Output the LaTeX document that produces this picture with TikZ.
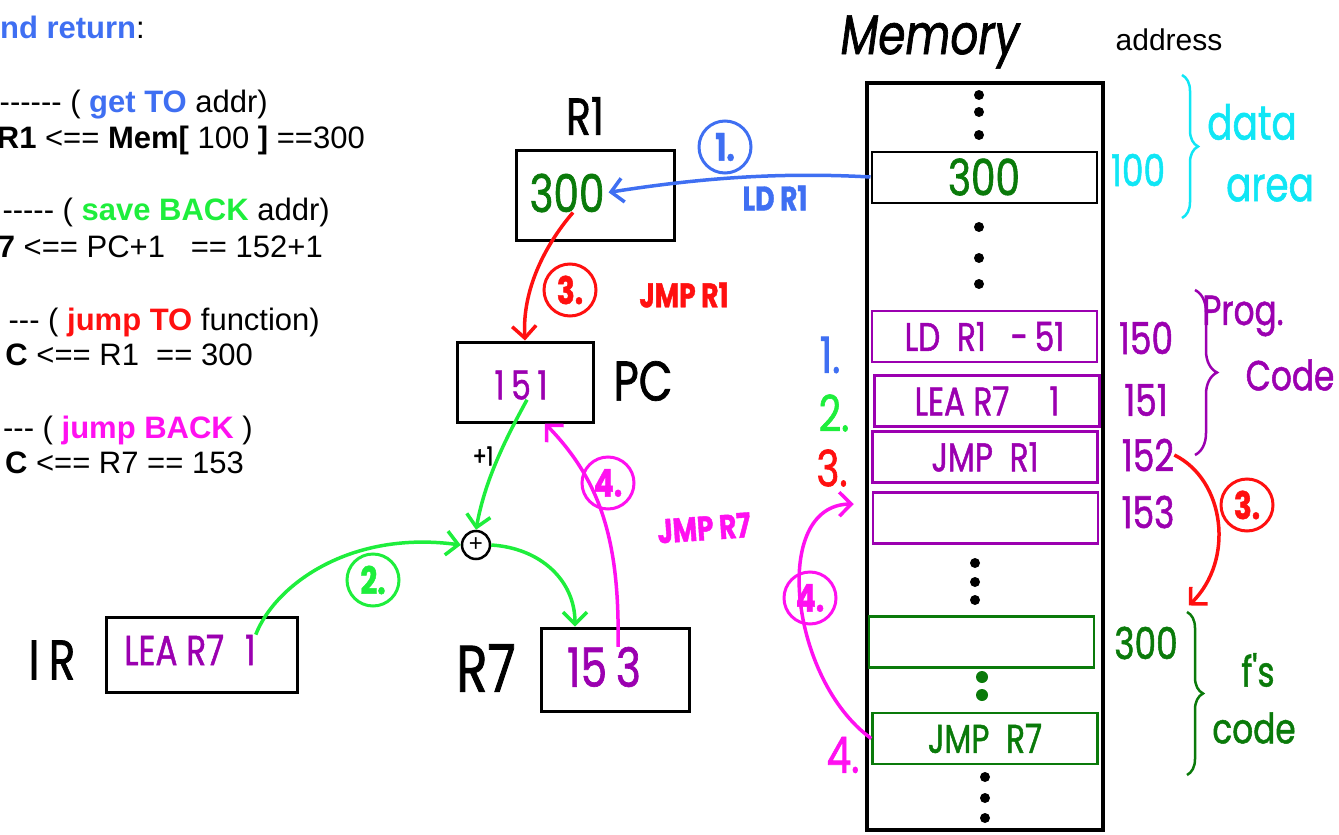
\documentclass[tikz,border=0pt]{standalone}
\usepackage{fontspec}
\setmainfont{Liberation Sans}
\newfontfamily\hand[FakeStretch=0.78, FakeBold=1.2]{Poppins}
\usetikzlibrary{arrows.meta, positioning, decorations.pathreplacing}
\definecolor{cblue}{HTML}{3F6FF2}
\definecolor{cgreen}{HTML}{1EEE3C}
\definecolor{dkgreen}{HTML}{0A7A0A}
\definecolor{cred}{HTML}{FF1010}
\definecolor{cmag}{HTML}{FF10F0}
\definecolor{cpurple}{HTML}{9B00B0}
\definecolor{ccyan}{HTML}{10E6F5}

\tikzset{
    txt/.style={anchor=base east, inner sep=0pt, font=\fontsize{31}{31}\selectfont},
    hand/.style={inner sep=0pt, font=\hand\fontsize{#1}{#1}\selectfont},
    hand/.default=40,
    regbox/.style={draw, line width=3pt},
    cell/.style={draw, line width=2.5pt, minimum width=225pt, minimum height=51pt, inner sep=0pt, font=\hand\fontsize{40}{40}\selectfont},
    circled/.style={circle, draw, line width=3pt, minimum size=52pt, inner sep=0pt, font=\hand\bfseries\fontsize{38}{38}\selectfont},
    steplab/.style={inner sep=0pt, font=\hand\bfseries\fontsize{34}{34}\selectfont},
    arr/.style={line width=3.5pt, -{Straight Barb[length=12pt, width=24pt]}},
    brc/.style={decorate, decoration={brace, amplitude=#1}, line width=2.5pt},
}

\begin{document}
\begin{tikzpicture}[x=1pt, y=-1pt]
    \useasboundingbox (0,0) rectangle (1339,835);

    % instruction notes
    \node[txt] (l0) at (145,38) {\textcolor{cblue}{\bfseries nd return}:};
    \node[txt] (l1) at (268,112) {-{}-{}-{}-{}-{}- ( \textcolor{cblue}{\bfseries get TO} addr)};
    \node[txt] (l2) at (365,148) {{\bfseries R1} <== {\bfseries Mem[} 100 {\bfseries ]} ==300};
    \node[txt] (l3) at (330,220) {-{}-{}-{}-{}- ( \textcolor{cgreen}{\bfseries save BACK} addr)};
    \node[txt] (l4) at (323,257) {{\bfseries 7} <== PC+1 \ \ == 152+1};
    \node[txt] (l5) at (320,330) {-{}-{}- ( \textcolor{cred}{\bfseries jump TO} function)};
    \node[txt] (l6) at (253,365) {{\bfseries C} <== R1 \ == 300};
    \node[txt] (l7) at (253,438) {-{}-{}- ( \textcolor{cmag}{\bfseries jump BACK} )};
    \node[txt] (l8) at (244,473) {{\bfseries C} <== R7 == 153};

    % registers
    \node[regbox, minimum width=158pt, minimum height=90pt] (r1box) at (595,195) {};
    \node[hand=52] (r1lab) at (585,116) {R1};
    \node[hand=52, dkgreen] (r1val) at (567,193) {300};
    \node[regbox, minimum width=136pt, minimum height=80pt] (pcbox) at (525,382) {};
    \node[hand=56] (pclab) at (643,381) {PC};
    \node[hand=40, cpurple] (pcval) at (521,385) {1\,5\,1};
    \node[regbox, minimum width=191pt, minimum height=75pt] (irbox) at (201.5,654.5) {};
    \node[hand=56] (irlab) at (52,660) {I\,R};
    \node[hand=42, cpurple] (irval) at (190,650) {LEA R7\enspace 1};
    \node[regbox, minimum width=148pt, minimum height=83pt] (r7box) at (615,669.5) {};
    \node[hand=66] (r7lab) at (486,668) {R7};
    \node[hand=54, cpurple] (r7val) at (604,667) {15\,3};
    \node[circle, draw, line width=2.5pt, minimum size=28pt, inner sep=0pt, font=\fontsize{24}{24}\selectfont] (plus) at (476,545) {+};
    \node[hand=26] (plusone) at (483,456) {+1};

    % memory
    \node[hand, font=\hand\itshape\fontsize{56}{56}\selectfont] (memlab) at (930,42) {Memory};
    \node[inner sep=0pt, font=\fontsize{30}{30}\selectfont] (addrlab) at (1169,40) {address};
    \node[draw, line width=4.5pt, minimum width=236pt, minimum height=747pt] (mem) at (985,456.5) {};
    \node[cell, line width=2pt, dkgreen, draw=black, font=\hand\fontsize{50}{50}\selectfont] (c100) at (984,177) {300};
    \node[cell, cpurple] (c150) at (984.5,336.5) {LD\ \ R1\ \ \ -\,51};
    \node[cell, cpurple] (c151) at (987,401) {LEA\ R7\quad 1};
    \node[cell, cpurple] (c152) at (985,457) {JMP\ \ R1};
    \node[cell, cpurple] (c153) at (985.5,518) {};
    \node[cell, dkgreen] (c300) at (981.5,642) {};
    \node[cell, dkgreen] (cret) at (985,738.5) {JMP\ \ R7};
    \foreach \p in {(979,95),(979,112),(979,135),(979,227),(979,258),(979,284),(975,563),(975,582),(975,600),(985,777),(985,798),(985,818)}
        \fill \p circle (5pt);
    \foreach \p in {(982,677),(982,695)}
        \fill[dkgreen] \p circle (6pt);

    % addresses
    \node[hand=44, ccyan] (a100) at (1138,170) {100};
    \node[hand=44, cpurple] (a150) at (1146,338) {150};
    \node[hand=44, cpurple] (a151) at (1146,400) {151};
    \node[hand=44, cpurple] (a152) at (1148,455) {152};
    \node[hand=44, cpurple] (a153) at (1148,512) {153};
    \node[hand=44, dkgreen] (a300) at (1146,643) {300};
    \draw[brc=16pt, ccyan] (1182,75) -- (1182,218);
    \draw[brc=22pt, cpurple] (1195,290) -- (1195,455);
    \draw[brc=16pt, dkgreen] (1187,612) -- (1187,775);
    \node[hand=48, ccyan] (data) at (1252,122) {data};
    \node[hand=48, ccyan] (area) at (1270,188) {area};
    \node[hand=42, cpurple] (prog) at (1243,316) {Prog.};
    \node[hand=42, cpurple] (code) at (1290,375) {Code};
    \node[hand=42, dkgreen] (fs) at (1258,670) {f's};
    \node[hand=42, dkgreen] (fcode) at (1254,728) {code};

    % step numbers
    \node[hand=50, cblue] (n1) at (830,355) {1.};
    \node[hand=50, cgreen] (n2) at (834,413) {2.};
    \node[hand=50, cred] (n3) at (832,468) {3.};
    \node[hand=50, cmag] (n4) at (843,755) {4.};

    % 1. LD R1
    \draw[arr, cblue, shorten >=4pt] (c100.west) .. controls (780,172) and (700,178) .. (r1val.east);
    \node[circled, cblue] (k1) at (725,147) {1.};
    \node[steplab, cblue] (ldlab) at (775,198) {LD\ R1};

    % 3. JMP R1
    \draw[arr, cred] ([xshift=6pt]r1val.south) .. controls (545,245) and (522,290) .. (pcbox.north);
    \node[circled, cred] (k3a) at (570,290) {3.};
    \node[steplab, cred] (jr1lab) at (684,295) {JMP\ R1};
    \draw[arr, cred] (a152.east) .. controls (1225,480) and (1235,560) .. ([xshift=11pt, yshift=21pt]a300.north east);
    \node[circled, cred] (k3b) at (1247,505) {3.};

    % 2. LEA R7
    \draw[arr, cgreen] ([xshift=6pt]pcval.south) .. controls (505,440) and (485,480) .. (plus.north);
    \draw[arr, cgreen] (irval.north east) .. controls (275,585) and (350,530) .. (plus.west);
    \node[circled, cgreen] (k2) at (373,580) {2.};
    \draw[arr, cgreen] (plus.east) .. controls (540,548) and (575,580) .. ([xshift=-40pt]r7box.north);

    % 4. JMP R7
    \draw[arr, cmag] ([xshift=14pt]r7val.north) .. controls (620,540) and (600,480) .. ([xshift=20pt]pcbox.south);
    \node[circled, cmag] (k4a) at (608,483) {4.};
    \node[steplab, cmag, rotate=4] (jr7lab) at (704,528) {JMP\ R7};
    \draw[arr, cmag] (cret.west) .. controls (790,680) and (770,505) .. ([xshift=-18pt, yshift=14pt]c153.west);
    \node[circled, cmag] (k4b) at (810,598) {4.};
\end{tikzpicture}
\end{document}
